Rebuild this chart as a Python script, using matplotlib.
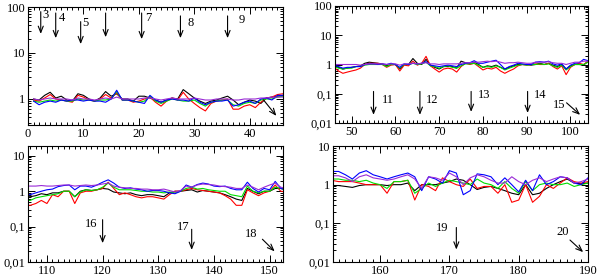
import matplotlib
matplotlib.use('Agg')
import matplotlib.pyplot as plt
from matplotlib.ticker import MultipleLocator, FixedLocator, LogLocator, NullFormatter

plt.rcParams['font.family'] = ['Liberation Serif', 'DejaVu Serif']
plt.rcParams['font.size'] = 9

# ---- panel 1 (x = 1..46)
p1_x = list(range(1, 47))
p1_black = [1.0, 0.95, 1.2, 1.4, 1.05, 1.15, 0.95, 0.9, 1.3, 1.2, 1.0, 0.9, 1.05, 1.45, 1.15, 1.3,
            1.0, 1.0, 0.9, 1.15, 1.15, 1.05, 0.95, 0.85, 0.95, 1.05, 1.0, 1.6, 1.3, 1.05, 0.9, 0.8,
            0.9, 0.95, 1.05, 1.15, 0.95, 0.75, 0.85, 0.95, 0.9, 0.8, 1.05, 1.1, 1.15, 1.2]
p1_red = [0.95, 0.9, 1.05, 1.25, 1.0, 0.95, 0.9, 0.85, 1.2, 1.1, 0.95, 0.9, 1.0, 1.25, 1.05, 1.35,
          0.95, 0.95, 0.85, 0.9, 1.0, 1.1, 0.85, 0.7, 0.9, 1.05, 0.95, 1.4, 1.0, 0.8, 0.65, 0.55,
          0.8, 0.9, 0.95, 1.0, 0.6, 0.6, 0.7, 0.75, 0.65, 0.85, 1.05, 1.1, 1.25, 1.3]
p1_green = [0.9, 0.85, 0.9, 0.95, 0.9, 0.95, 0.9, 0.9, 1.0, 0.95, 0.95, 0.9, 0.95, 0.95, 1.0, 1.45,
            0.95, 0.95, 0.9, 0.85, 0.9, 1.15, 0.9, 0.8, 0.9, 1.0, 0.95, 0.9, 0.9, 0.95, 0.8, 0.7,
            0.85, 0.9, 0.95, 0.95, 0.75, 0.7, 0.8, 0.85, 0.8, 0.95, 1.0, 1.0, 1.1, 1.15]
p1_blue = [0.9, 0.75, 0.85, 0.9, 0.85, 0.95, 0.9, 0.95, 0.95, 0.9, 0.95, 0.9, 0.9, 0.85, 1.0, 1.55,
           0.95, 0.95, 0.9, 0.85, 0.8, 1.2, 0.95, 0.85, 0.95, 1.0, 0.95, 0.95, 0.9, 1.05, 0.85, 0.75,
           0.85, 0.9, 0.9, 0.95, 0.7, 0.75, 0.85, 0.9, 0.8, 1.0, 1.05, 0.95, 1.2, 1.2]
p1_purple = [1.0, 0.95, 1.0, 1.05, 1.0, 1.0, 1.0, 0.95, 1.05, 1.0, 1.0, 0.95, 1.0, 1.05, 1.0, 1.1,
             1.0, 1.0, 1.0, 1.0, 1.05, 1.05, 1.0, 0.95, 1.0, 1.05, 1.0, 1.0, 1.0, 1.05, 1.0, 0.95,
             0.95, 1.0, 1.0, 1.0, 0.95, 0.95, 1.0, 1.0, 1.0, 1.05, 1.05, 1.1, 1.1, 1.1]

# ---- panel 2 (x = 46..104)
p2_x = list(range(46, 105))
p2_black = [0.95, 0.8, 0.7, 0.75, 0.8, 0.85, 0.9, 1.1, 1.2, 1.15, 1.1, 1.05, 0.9, 1.0, 1.0, 0.7,
            1.0, 1.0, 1.6, 1.1, 1.0, 1.5, 0.95, 0.8, 0.7, 0.85, 0.85, 0.85, 0.75, 1.3, 1.15, 1.1,
            1.2, 1.0, 0.8, 0.9, 0.85, 0.95, 0.8, 0.7, 0.8, 0.9, 1.0, 1.0, 1.0, 0.95, 1.0, 1.1,
            1.0, 1.1, 0.95, 0.85, 1.0, 0.7, 0.9, 1.0, 1.0, 0.95, 1.3]
p2_red = [0.8, 0.6, 0.5, 0.55, 0.6, 0.65, 0.75, 1.0, 1.1, 1.1, 1.1, 1.0, 0.8, 0.95, 1.0, 0.6,
          0.95, 0.9, 1.3, 0.95, 1.1, 1.9, 0.9, 0.7, 0.55, 0.7, 0.75, 0.7, 0.55, 0.85, 1.1, 1.0,
          1.1, 0.85, 0.65, 0.75, 0.7, 0.8, 0.6, 0.5, 0.6, 0.7, 0.9, 1.0, 0.95, 1.0, 1.05, 1.0,
          1.0, 1.1, 0.85, 0.7, 0.9, 0.45, 0.8, 1.0, 1.1, 1.0, 1.3]
p2_green = [0.85, 0.75, 0.7, 0.75, 0.75, 0.85, 0.85, 0.95, 1.0, 1.0, 1.0, 1.0, 0.85, 1.0, 1.0, 0.75,
            1.0, 1.0, 1.1, 1.0, 1.05, 1.2, 0.9, 0.85, 0.75, 0.85, 0.9, 0.8, 0.75, 0.9, 1.05, 1.05,
            1.1, 0.95, 0.8, 0.85, 0.8, 0.9, 0.8, 0.65, 0.75, 0.85, 0.95, 1.0, 0.95, 1.0, 1.0, 1.05,
            1.0, 1.05, 0.9, 0.8, 0.95, 0.65, 0.85, 1.0, 1.0, 1.0, 1.2]
p2_blue = [0.95, 0.85, 0.75, 0.8, 0.8, 0.85, 0.85, 1.0, 1.05, 1.05, 1.0, 1.05, 1.0, 1.1, 1.0, 0.8,
           1.05, 1.0, 1.1, 1.05, 1.1, 1.25, 0.95, 0.9, 0.85, 0.9, 0.95, 0.9, 0.85, 1.0, 1.1, 1.15,
           1.35, 1.1, 1.1, 1.2, 1.3, 1.4, 1.0, 0.7, 0.85, 0.95, 1.1, 1.05, 1.0, 1.0, 1.2, 1.25,
           1.2, 1.3, 1.05, 0.95, 1.05, 0.7, 0.95, 1.1, 1.15, 1.5, 1.35]
p2_purple = [1.0, 1.0, 1.0, 1.0, 1.0, 1.0, 0.95, 1.0, 1.05, 1.05, 1.05, 1.05, 1.0, 1.05, 1.05, 0.95,
             1.05, 1.05, 1.1, 1.05, 1.1, 1.15, 1.05, 1.05, 1.0, 1.05, 1.05, 1.05, 1.05, 1.1, 1.15, 1.15,
             1.2, 1.2, 1.25, 1.3, 1.25, 1.3, 1.2, 1.1, 1.15, 1.15, 1.2, 1.15, 1.1, 1.1, 1.2, 1.2,
             1.2, 1.25, 1.15, 1.1, 1.1, 1.0, 1.1, 1.2, 1.2, 1.3, 1.3]

# ---- panel 3 (x = 106..153)
p3_x = list(range(106, 154))
p3_black = [0.7, 0.7, 0.75, 0.85, 0.8, 0.9, 0.9, 1.0, 1.0, 0.7, 1.0, 1.1, 1.05, 1.1, 1.2, 1.15,
            0.95, 0.9, 0.85, 0.9, 0.8, 0.75, 0.8, 0.8, 0.75, 0.7, 0.9, 1.0, 1.0, 1.05, 1.1, 0.95,
            1.05, 1.0, 0.95, 0.9, 0.8, 0.7, 0.6, 0.55, 1.2, 1.0, 0.85, 1.0, 1.0, 1.2, 1.2, 1.1]
p3_red = [0.4, 0.4, 0.45, 0.55, 0.45, 0.8, 0.7, 1.0, 1.0, 0.45, 0.9, 1.0, 1.0, 1.1, 1.2, 1.8,
          1.2, 0.8, 0.9, 0.8, 0.7, 0.65, 0.7, 0.7, 0.65, 0.6, 0.8, 1.0, 1.0, 1.1, 1.2, 1.1,
          1.05, 1.0, 0.95, 0.9, 0.75, 0.6, 0.4, 0.4, 1.1, 0.9, 0.75, 0.9, 1.0, 1.5, 1.0, 0.95]
p3_green = [0.55, 0.55, 0.65, 0.7, 0.75, 0.8, 0.85, 1.0, 1.0, 0.7, 0.95, 1.1, 1.05, 1.1, 1.3, 1.7,
            1.3, 1.1, 1.1, 1.1, 1.05, 1.0, 1.0, 0.95, 0.95, 0.9, 0.95, 0.9, 1.0, 1.2, 1.3, 1.15,
            1.2, 1.1, 1.05, 1.0, 1.0, 0.8, 0.75, 0.7, 1.4, 1.0, 0.9, 1.0, 1.0, 1.3, 1.2, 1.1]
p3_blue = [0.8, 0.8, 0.9, 1.0, 1.1, 1.15, 1.35, 1.45, 1.5, 1.1, 1.4, 1.4, 1.3, 1.5, 1.8, 2.1,
           1.7, 1.3, 1.2, 1.25, 1.15, 1.1, 1.0, 1.05, 1.05, 1.0, 0.9, 0.85, 1.0, 1.5, 1.3, 1.55,
           1.7, 1.6, 1.4, 1.35, 1.4, 1.2, 1.1, 1.1, 1.8, 1.2, 0.95, 1.2, 1.1, 1.9, 1.2, 1.1]
p3_purple = [1.4, 1.4, 1.4, 1.45, 1.4, 1.4, 1.45, 1.5, 1.5, 1.4, 1.45, 1.5, 1.45, 1.5, 1.6, 1.7,
             1.4, 1.3, 1.25, 1.2, 1.2, 1.15, 1.15, 1.1, 1.1, 1.15, 1.05, 0.95, 1.05, 1.4, 1.3, 1.5,
             1.6, 1.55, 1.5, 1.4, 1.35, 1.3, 1.2, 1.2, 1.5, 1.3, 1.1, 1.3, 1.5, 1.7, 1.3, 1.2]

# ---- panel 4 (x = 153..190)
p4_x = list(range(153, 191))
p4_black = [0.95, 0.95, 0.9, 0.85, 0.95, 1.0, 1.0, 1.0, 0.95, 1.0, 1.0, 1.1, 0.7, 1.0, 1.0, 1.0,
            1.1, 1.2, 1.4, 1.3, 1.0, 0.75, 0.85, 0.9, 0.8, 0.7, 0.6, 0.55, 1.0, 0.55, 0.6, 0.8,
            1.0, 1.2, 1.4, 1.1, 1.05, 1.1]
p4_red = [1.3, 1.2, 1.2, 1.2, 1.1, 1.0, 1.0, 1.0, 0.6, 1.2, 1.2, 1.3, 0.4, 1.0, 0.9, 0.7,
          1.5, 1.2, 1.0, 0.9, 1.4, 0.8, 0.9, 0.9, 0.6, 1.0, 0.35, 0.4, 1.0, 0.35, 0.5, 1.0,
          0.8, 1.1, 1.5, 1.2, 1.1, 1.2]
p4_green = [1.4, 1.4, 1.3, 1.3, 1.2, 1.3, 1.1, 1.0, 0.8, 1.2, 1.2, 1.3, 0.6, 0.8, 1.1, 0.9,
            1.1, 1.3, 1.2, 1.1, 1.0, 1.4, 1.1, 1.0, 0.8, 1.2, 0.8, 0.6, 1.2, 0.7, 1.0, 1.1,
            1.0, 1.0, 1.1, 0.9, 1.0, 1.1]
p4_blue = [2.2, 2.2, 1.8, 1.4, 2.0, 2.3, 1.8, 1.6, 1.4, 1.6, 1.8, 2.0, 1.6, 0.7, 1.6, 1.4,
           1.1, 2.3, 2.0, 0.55, 0.7, 1.9, 1.8, 1.6, 1.0, 1.5, 1.0, 0.65, 1.3, 0.7, 1.8, 1.0,
           1.2, 1.6, 1.5, 1.1, 1.0, 1.5]
p4_purple = [1.7, 1.7, 1.5, 1.2, 1.6, 1.8, 1.5, 1.4, 1.3, 1.4, 1.6, 1.8, 1.4, 0.8, 1.6, 1.5,
             1.3, 2.0, 1.6, 1.0, 1.5, 1.8, 1.6, 1.3, 1.1, 1.1, 1.6, 1.2, 1.0, 1.3, 1.5, 1.2,
             1.4, 1.6, 1.5, 1.1, 1.2, 1.4]

# arrows: (x_start, y_start, x_tip, y_tip, label, x_label, y_label)
p1_arrows = [(2.3, 79, 2.3, 26, '3', 3.1, 67), (5, 74, 5, 21, '4', 6.1, 57),
             (9.5, 48, 9.5, 15.6, '5', 10.3, 45), (14, 74, 14, 22, '', 0, 0),
             (20.5, 74, 20.5, 20, '7', 21.7, 57), (27.5, 64, 27.5, 21, '8', 29.3, 45),
             (36, 64, 36, 21, '9', 38.6, 52), (42.5, 0.95, 44.8, 0.43, '', 0, 0)]
p2_arrows = [(55, 0.12, 55, 0.019, '11', 58.3, 0.062), (65.6, 0.12, 65.6, 0.019, '12', 68.5, 0.062),
             (77.3, 0.12, 77.3, 0.024, '13', 80.3, 0.09), (90.2, 0.12, 90.2, 0.022, '14', 93.0, 0.09),
             (99.1, 0.049, 102.2, 0.019, '15', 97.5, 0.042)]
p3_arrows = [(120, 0.157, 120, 0.034, '16', 118, 0.12), (136, 0.084, 136, 0.022, '17', 134.5, 0.1),
             (148.7, 0.044, 150.9, 0.02, '18', 146.7, 0.06)]
p4_arrows = [(171, 0.078, 171, 0.021, '19', 168.9, 0.078), (187.4, 0.037, 189.3, 0.018, '20', 186.4, 0.058)]

colors = ['black', '#ff0000', '#00dd00', '#0000ff', '#9a2bd6']

panels = [
    dict(rect=[28, 7, 283, 125], x=p1_x, ys=[p1_black, p1_red, p1_green, p1_blue, p1_purple],
         xlim=(0, 46), ylim=(0.272, 100), xt=[0, 10, 20, 30, 40],
         yt=[1, 10, 100], ytl=['1', '10', '100'], arrows=p1_arrows),
    dict(rect=[335, 6, 588, 123], x=p2_x, ys=[p2_black, p2_red, p2_green, p2_blue, p2_purple],
         xlim=(46.2, 104), ylim=(0.01, 100), xt=[50, 60, 70, 80, 90, 100],
         yt=[0.01, 0.1, 1, 10, 100], ytl=['0,01', '0,1', '1', '10', '100'], arrows=p2_arrows),
    dict(rect=[28, 146, 283, 262], x=p3_x, ys=[p3_black, p3_red, p3_green, p3_blue, p3_purple],
         xlim=(106.6, 152.4), ylim=(0.01, 19), xt=[110, 120, 130, 140, 150],
         yt=[0.01, 0.1, 1, 10], ytl=['0,01', '0,1', '1', '10'], arrows=p3_arrows),
    dict(rect=[333, 146, 588, 262], x=p4_x, ys=[p4_black, p4_red, p4_green, p4_blue, p4_purple],
         xlim=(153.2, 190), ylim=(0.01, 10), xt=[160, 170, 180, 190],
         yt=[0.01, 0.1, 1, 10], ytl=['0,01', '0,1', '1', '10'], arrows=p4_arrows),
]

W, H = 600, 278
fig = plt.figure(figsize=(W / 100, H / 100), dpi=100)

for p in panels:
    l, t, r, b = p['rect']
    ax = fig.add_axes([l / W, 1 - b / H, (r - l) / W, (b - t) / H])
    for ys, c in zip(p['ys'], colors):
        ax.plot(p['x'], ys, color=c, lw=0.8)
    ax.set_yscale('log')
    ax.set_xlim(*p['xlim'])
    ax.set_ylim(*p['ylim'])
    ax.xaxis.set_major_locator(FixedLocator(p['xt']))
    ax.xaxis.set_minor_locator(MultipleLocator(1))
    ax.yaxis.set_major_locator(FixedLocator(p['yt']))
    ax.set_yticklabels(p['ytl'])
    ax.yaxis.set_minor_locator(LogLocator(base=10, subs=range(2, 10), numticks=20))
    ax.yaxis.set_minor_formatter(NullFormatter())
    ax.tick_params(which='both', direction='in', top=True, right=True, width=0.7, pad=2,
                   labelsize=9)
    ax.tick_params(which='major', length=5)
    ax.tick_params(which='minor', length=2.5)
    for s in ax.spines.values():
        s.set_linewidth(0.8)
    for x0, y0, x1, y1, lab, xl, yl in p['arrows']:
        ax.annotate('', xy=(x1, y1), xytext=(x0, y0),
                    arrowprops=dict(arrowstyle='->,head_length=0.5,head_width=0.2', color='black', lw=0.8,
                                    shrinkA=0, shrinkB=0))
        if lab:
            ax.text(xl, yl, lab, ha='center', va='center', fontsize=9)

fig.savefig('out.png', dpi=100)
